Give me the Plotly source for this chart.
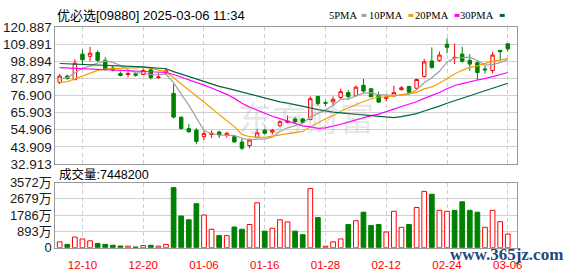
import plotly.graph_objects as go

# ---------------- data ----------------
dates = ["12-05", "12-06", "12-09", "12-10", "12-11", "12-12", "12-13", "12-16", "12-17", "12-18",
         "12-19", "12-20", "12-23", "12-24", "12-27", "12-30", "12-31", "01-02", "01-03", "01-06",
         "01-07", "01-08", "01-09", "01-10", "01-13", "01-14", "01-15", "01-16", "01-17", "01-20",
         "01-21", "01-22", "01-23", "01-24", "01-27", "01-28", "02-03", "02-04", "02-05", "02-06",
         "02-07", "02-10", "02-11", "02-12", "02-13", "02-14", "02-17", "02-18", "02-19", "02-20",
         "02-21", "02-24", "02-25", "02-26", "02-27", "02-28", "03-03", "03-04", "03-05", "03-06"]

opens = [85.3, 89.3, 87.0, 103.4, 102.0, 104.4, 99.4, 94.5, 90.9, 90.3,
         90.7, 90.3, 93.3, 88.3, 91.3, 78.2, 62.9, 55.6, 54.6, 50.4,
         51.8, 53.4, 51.4, 50.4, 47.0, 44.7, 50.0, 54.6, 53.4, 57.5,
         59.6, 61.8, 61.8, 61.4, 76.2, 72.3, 72.7, 75.6, 78.7, 76.9,
         83.4, 81.2, 76.9, 75.0, 76.6, 80.6, 82.6, 81.5, 89.1, 99.0,
         99.4, 109.7, 101.0, 103.4, 99.4, 97.9, 93.9, 92.9, 105.8, 110.0]
highs = [90.7, 90.3, 100.0, 106.4, 108.1, 105.8, 101.4, 95.8, 92.3, 92.3,
         91.7, 94.3, 94.3, 91.3, 94.5, 84.2, 63.5, 58.4, 56.1, 54.4,
         54.4, 54.3, 53.6, 51.0, 49.3, 49.3, 55.4, 55.4, 55.4, 61.0,
         64.0, 63.0, 62.6, 76.3, 76.8, 73.5, 76.2, 81.3, 80.3, 83.2,
         87.5, 81.5, 79.3, 76.9, 83.2, 83.0, 83.2, 87.7, 100.4, 107.7,
         105.0, 113.5, 110.1, 108.1, 103.4, 98.8, 95.8, 104.8, 106.2, 110.0]
lows = [84.2, 87.1, 86.9, 96.3, 98.8, 98.4, 92.7, 92.3, 89.1, 88.5,
        88.9, 89.9, 87.1, 87.7, 90.3, 62.1, 55.1, 52.9, 45.6, 48.3,
        49.6, 49.6, 49.8, 46.8, 41.8, 43.0, 49.6, 51.8, 51.8, 56.5,
        59.0, 58.6, 59.0, 61.0, 70.1, 70.1, 70.5, 74.2, 74.0, 76.2,
        78.6, 76.0, 72.0, 73.0, 75.8, 80.0, 78.0, 80.8, 88.3, 93.9,
        98.4, 103.8, 97.0, 97.9, 92.7, 86.8, 90.9, 91.1, 98.9, 105.2]
closes = [89.3, 87.7, 97.6, 99.8, 104.0, 99.4, 93.9, 93.3, 89.7, 90.9,
          89.9, 92.9, 88.3, 88.7, 92.7, 63.0, 55.6, 53.6, 47.4, 52.4,
          52.6, 51.6, 52.6, 47.0, 43.0, 48.3, 52.9, 52.6, 54.6, 60.0,
          60.4, 60.0, 59.6, 74.8, 71.7, 71.9, 74.4, 79.3, 76.2, 82.2,
          79.7, 76.0, 72.6, 75.8, 78.7, 81.8, 78.9, 87.1, 98.4, 94.9,
          102.8, 107.8, 101.3, 98.8, 97.0, 91.6, 93.3, 102.8, 105.0, 106.8]

# volume in 万 shares
volumes = [320, 180, 580, 478, 374, 234, 182, 130, 90, 85,
           40, 115, 130, 85, 180, 3297, 1739, 1531, 2414, 1791,
           1012, 664, 660, 1132, 1012, 1272, 2466, 908, 1064, 1531,
           1412, 908, 716, 3245, 1651, 80, 322, 478, 1272, 1480,
           1947, 1220, 1272, 857, 1999, 1116, 1272, 2207, 3089, 2933,
           2051, 1999, 2051, 2518, 2051, 1947, 1116, 2051, 1428, 745]

ma5 = [87.4, 88.3, 91.3, 94.5, 95.7, 97.7, 98.9, 98.1, 96.1, 93.4,
       91.5, 91.3, 90.3, 90.1, 90.5, 85.1, 77.7, 70.7, 62.5, 54.4,
       52.3, 51.5, 51.3, 51.2, 49.4, 48.5, 48.8, 48.8, 50.3, 53.7,
       56.1, 57.5, 58.9, 63.0, 65.3, 67.6, 70.5, 74.4, 74.7, 76.8,
       78.4, 78.7, 77.3, 77.3, 76.6, 77.0, 77.6, 80.5, 85.0, 88.2,
       92.4, 98.2, 101.0, 101.1, 101.5, 99.3, 96.4, 96.7, 97.9, 99.9]
ma10 = [85.3, 85.8, 87.5, 89.5, 91.5, 93.0, 93.8, 94.2, 94.4, 94.6,
        94.6, 95.1, 94.2, 93.1, 92.0, 88.3, 84.5, 80.5, 76.3, 72.5,
        68.7, 64.6, 61.0, 56.9, 51.9, 50.4, 50.1, 50.0, 50.8, 51.5,
        52.3, 53.1, 53.8, 56.6, 59.5, 61.9, 64.0, 66.7, 68.8, 71.1,
        73.0, 74.6, 75.9, 76.0, 76.7, 77.7, 78.1, 78.9, 81.1, 82.4,
        84.7, 87.9, 90.7, 93.0, 94.9, 95.9, 97.3, 98.9, 99.5, 100.7]
ma20 = [94.8, 94.6, 94.4, 94.1, 93.8, 93.6, 93.4, 93.2, 92.9, 92.7,
        92.5, 92.3, 92.1, 91.9, 91.6, 90.3, 88.7, 87.0, 85.2, 83.5,
        81.7, 79.9, 77.6, 75.0, 71.9, 69.4, 67.3, 65.3, 63.5, 62.0,
        60.5, 58.9, 57.4, 56.7, 55.7, 56.1, 57.1, 58.4, 59.8, 61.3,
        62.6, 63.9, 64.9, 66.3, 68.1, 69.8, 71.1, 72.8, 75.0, 76.7,
        78.8, 81.2, 83.3, 84.5, 85.8, 86.8, 87.7, 88.9, 90.3, 91.6]
ma30 = [97.4, 97.2, 97.0, 96.9, 96.8, 96.7, 96.5, 96.3, 96.0, 95.8,
        95.5, 95.2, 94.8, 94.4, 94.0, 92.2, 90.6, 89.0, 87.2, 85.5,
        83.8, 82.7, 81.6, 80.3, 78.8, 77.5, 76.3, 75.1, 73.8, 72.8,
        71.9, 71.0, 69.7, 68.9, 67.8, 66.9, 66.2, 65.7, 65.3, 65.0,
        64.7, 64.1, 63.6, 63.2, 62.7, 63.3, 64.1, 65.2, 66.9, 68.3,
        70.0, 71.9, 73.5, 75.2, 77.0, 78.5, 79.8, 81.5, 83.2, 84.7]

price_ticks = [32.913, 43.909, 54.906, 65.903, 76.900, 87.897, 98.894, 109.891, 120.887]
price_tick_text = ["32.913", "43.909", "54.906", "65.903", "76.900", "87.897", "98.894", "109.891", "120.887"]
vol_ticks = [0, 893, 1786, 2679, 3572]
vol_tick_text = ["0", "893万", "1786万", "2679万", "3572万"]
date_ticks = ["12-10", "12-20", "01-06", "01-16", "01-28", "02-12", "02-24", "03-06"]

title_text = "优必选[09880] 2025-03-06 11:34"
vol_title = "成交量:7448200"
ma_names = ["5PMA", "10PMA", "20PMA", "30PMA"]

# ---------------- styling ----------------
W, H = 578, 276


def fx(p):
    return p / W


def fy(p):
    return 1 - p / H


RED = "#ff0000"
GREEN = "#008000"
ma_colors = ["#a0a0a0", "#f5a000", "#ff00ff", "#006633"]

vol_up = [True] + [closes[i] >= closes[i - 1] for i in range(1, len(closes))]
vol_fill = ["white" if u else GREEN for u in vol_up]
vol_line = [RED if u else GREEN for u in vol_up]

fig = go.Figure()
fig.add_trace(go.Candlestick(
    x=dates, open=opens, high=highs, low=lows, close=closes,
    increasing=dict(line=dict(color=RED, width=1), fillcolor="white"),
    decreasing=dict(line=dict(color=GREEN, width=1), fillcolor=GREEN),
    whiskerwidth=0, xaxis="x", yaxis="y", showlegend=False, hoverinfo="skip"))
for name, vals, col in zip(ma_names, [ma5, ma10, ma20, ma30], ma_colors):
    fig.add_trace(go.Scatter(x=dates, y=vals, mode="lines", name=name,
                             line=dict(color=col, width=1.2),
                             xaxis="x", yaxis="y", showlegend=False, hoverinfo="skip"))
fig.add_trace(go.Bar(x=dates, y=volumes, width=0.62,
                     marker=dict(color=vol_fill, line=dict(color=vol_line, width=1)),
                     xaxis="x2", yaxis="y2", showlegend=False, hoverinfo="skip"))

common = dict(showline=True, mirror=True, linecolor="#999999", linewidth=1,
              zeroline=False, ticks="", fixedrange=True)
xcommon = dict(type="category", range=[-0.56, 60.16], tickvals=date_ticks,
               showgrid=True, gridcolor="#cfcfcf", gridwidth=1, griddash="4px,3px",
               domain=[fx(56), fx(522)])

fig.update_layout(
    width=W, height=H, margin=dict(l=0, r=0, t=0, b=0),
    paper_bgcolor="white", plot_bgcolor="white", showlegend=False,
    boxgap=0.35,
    xaxis=dict(anchor="y", showticklabels=False, rangeslider=dict(visible=False),
               **xcommon, **common),
    yaxis=dict(anchor="x", domain=[fy(166), fy(21)], range=[32.9, 120.9],
               tickvals=price_ticks, ticktext=price_tick_text,
               showgrid=True, gridcolor="#d0d0d0", gridwidth=1,
               tickfont=dict(family="Liberation Sans", size=13.5, color="#1a1a1a"),
               **common),
    xaxis2=dict(anchor="y2", showticklabels=True, ticklabelstandoff=7,
                tickfont=dict(family="Liberation Sans", size=11.5, color=RED),
                **xcommon, **common),
    yaxis2=dict(anchor="x2", domain=[fy(254.5), fy(185.7)], range=[-0.5, 3573],
                tickvals=vol_ticks, ticktext=vol_tick_text,
                showgrid=True, gridcolor="#d0d0d0", gridwidth=1,
                tickfont=dict(family="Liberation Sans, Noto Sans CJK SC", size=13, color="#1a1a1a"),
                **common),
)

ann = []
ann.append(dict(x=fx(309), y=fy(88), xref="paper", yref="paper", text="东方财富",
                showarrow=False, font=dict(family="Noto Sans CJK SC", size=34, color="rgba(170,170,170,0.30)")))
ann.append(dict(x=fx(56), y=fy(9.5), xref="paper", yref="paper", text=title_text,
                xanchor="left", yanchor="middle", showarrow=False,
                font=dict(family="Liberation Sans, Noto Sans CJK SC", size=13, color="#000000")))
ann.append(dict(x=fx(58), y=fy(177), xref="paper", yref="paper", text=vol_title,
                xanchor="left", yanchor="middle", showarrow=False,
                font=dict(family="Liberation Sans, Noto Sans CJK SC", size=12.5, color="#000000")))

legend_text_right = [362.7, 409.3, 455.7, 501.7]
legend_box_left = [365.3, 412.7, 459.3, 505.0]
shapes = []
for name, xr, xb, col in zip(ma_names, legend_text_right, legend_box_left, ma_colors):
    ann.append(dict(x=fx(xr), y=fy(9.5), xref="paper", yref="paper", text=name,
                    xanchor="right", yanchor="middle", showarrow=False,
                    font=dict(family="Liberation Serif", size=10.5, color="#000000")))
    shapes.append(dict(type="rect", xref="paper", yref="paper",
                       x0=fx(xb), x1=fx(xb + 5), y0=fy(10.5), y1=fy(7.3),
                       fillcolor=col, line=dict(width=0)))

ann.append(dict(x=fx(512), y=fy(262), xref="paper", yref="paper", text="<b>www.365jz.com</b>",
                showarrow=False, xanchor="center", yanchor="middle",
                font=dict(family="Liberation Serif", size=17, color="#28467a")))

fig.update_layout(annotations=ann, shapes=shapes)

fig.write_html("out.html")
